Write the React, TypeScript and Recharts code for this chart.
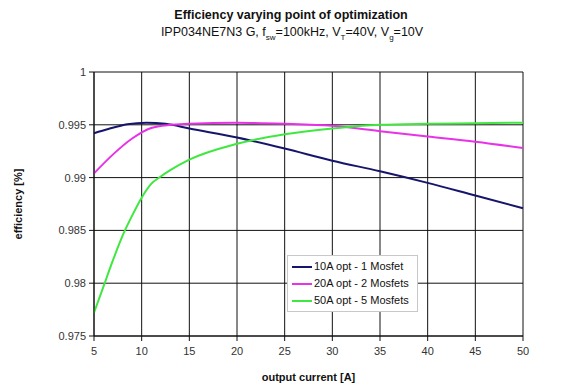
import React from 'react'
import { LineChart, Line, XAxis, YAxis, CartesianGrid, Legend, Label } from 'recharts'

// output current [A] and efficiency values
const opt10X = [5, 6.5, 8.5, 10.5, 12.5, 15, 20, 25, 30, 35, 40, 45, 50]
const opt10Y = [0.9942, 0.9946, 0.99505, 0.9952, 0.9951, 0.99465, 0.9938, 0.99275, 0.9916, 0.9906, 0.9895, 0.9883, 0.9871]

const opt20X = [5, 7, 9, 11, 13, 15, 20, 25, 30, 35, 40, 45, 50]
const opt20Y = [0.9904, 0.9922, 0.9937, 0.9947, 0.995, 0.9951, 0.9952, 0.9951, 0.9949, 0.9944, 0.9939, 0.9934, 0.9928]

const opt50X = [5, 6, 7, 8, 9, 10, 11, 12, 13, 15, 20, 25, 30, 35, 40, 45, 50]
const opt50Y = [0.9772, 0.9797, 0.9822, 0.9845, 0.9864, 0.9881, 0.9894, 0.9901, 0.9907, 0.9917, 0.9932, 0.9941, 0.99465, 0.995, 0.9951, 0.99515, 0.9952]

const xTicks = [5, 10, 15, 20, 25, 30, 35, 40, 45, 50]
const yTicks = [0.975, 0.98, 0.985, 0.99, 0.995, 1]

const seriesNames = ['10A opt - 1 Mosfet', '20A opt - 2 Mosfets', '50A opt - 5 Mosfets']
const seriesColors = ['#15156b', '#e832e8', '#3fe83f']

const toPoints = (xs: number[], ys: number[]) => xs.map((x, i) => ({ x, y: ys[i] }))
const series = [toPoints(opt10X, opt10Y), toPoints(opt20X, opt20Y), toPoints(opt50X, opt50Y)]

const font = '"Liberation Sans", Arial, sans-serif'

function LegendBox(props: any) {
  const items = props.payload || []
  return (
    <div style={{ background: '#fff', border: '1px solid #c8c8c8', padding: '2px 8px 2px 4px', fontFamily: font, fontSize: 11, lineHeight: '17px', color: '#111' }}>
      {items.map((p: any) => (
        <div key={p.value} style={{ display: 'flex', alignItems: 'center', height: 17 }}>
          <span style={{ display: 'inline-block', width: 20, height: 2, background: p.color, marginRight: 2 }} />
          {p.value}
        </div>
      ))}
    </div>
  )
}

export default function App() {
  return (
    <div style={{ position: 'absolute', left: 0, top: 0, width: 563, height: 390, background: '#fff', fontFamily: font }}>
      <div style={{ position: 'absolute', left: 0, width: 582, top: 8, textAlign: 'center', fontSize: 12.5, fontWeight: 'bold', color: '#111' }}>
        Efficiency varying point of optimization
      </div>
      <div style={{ position: 'absolute', left: 0, width: 584, top: 25, textAlign: 'center', fontSize: 12.5, color: '#111' }}>
        IPP034NE7N3 G, f<sub style={{ fontSize: 8 }}>sw</sub>=100kHz, V<sub style={{ fontSize: 8 }}>T</sub>=40V, V<sub style={{ fontSize: 8 }}>g</sub>=10V
      </div>
      <LineChart width={563} height={390} margin={{ top: 72, right: 40, bottom: 0, left: 0 }}>
        <CartesianGrid stroke="#111" strokeWidth={1} horizontalValues={yTicks} verticalValues={xTicks} />
        <XAxis
          type="number"
          dataKey="x"
          domain={[5, 50]}
          ticks={xTicks}
          height={54}
          stroke="#111"
          tickSize={5}
          tickMargin={6}
          tick={{ fill: '#333', fontSize: 11, fontFamily: font }}
        >
          <Label value="output current [A]" position="insideBottom" offset={9} style={{ fontWeight: 'bold', fontSize: 11, fill: '#111', fontFamily: font }} />
        </XAxis>
        <YAxis
          type="number"
          domain={[0.975, 1]}
          ticks={yTicks}
          width={94}
          stroke="#111"
          tickSize={5}
          tickMargin={3}
          tickFormatter={(v: number) => String(Number(v.toFixed(3)))}
          tick={{ fill: '#333', fontSize: 11, fontFamily: font }}
        >
          <Label value="efficiency [%]" angle={-90} position="insideLeft" offset={18} style={{ textAnchor: 'middle', fontWeight: 'bold', fontSize: 11, fill: '#111', fontFamily: font }} />
        </YAxis>
        <Legend
          layout="vertical"
          align="center"
          verticalAlign="middle"
          content={<LegendBox />}
          wrapperStyle={{ position: 'absolute', left: 287, top: 255, width: 'auto' }}
        />
        {series.map((d, i) => (
          <Line
            key={seriesNames[i]}
            data={d}
            dataKey="y"
            name={seriesNames[i]}
            type="monotone"
            stroke={seriesColors[i]}
            strokeWidth={2}
            dot={false}
            isAnimationActive={false}
          />
        ))}
      </LineChart>
    </div>
  )
}
